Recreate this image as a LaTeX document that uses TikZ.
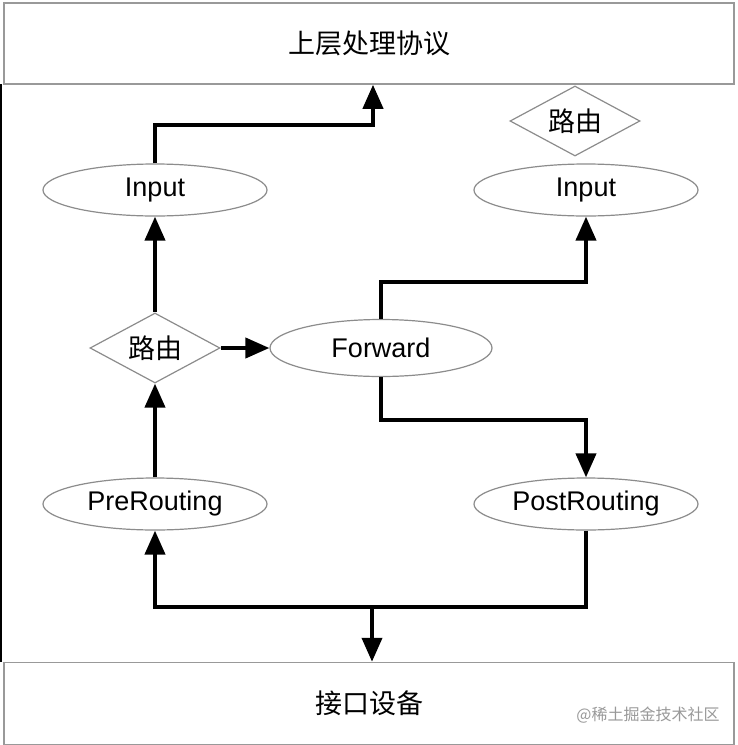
\documentclass[tikz,border=0pt]{standalone}
\usepackage{fontspec}
\setmainfont{Liberation Sans}
\newfontfamily\cjk{Noto Sans CJK SC}
\usetikzlibrary{shapes.geometric,arrows.meta}
\tikzset{
  box/.style={draw=black!40, line width=1.5pt, minimum width=730pt, inner sep=0pt, font=\cjk\fontsize{27}{30}\selectfont},
  oval/.style={ellipse, draw=black!45, line width=1.2pt, minimum width=224pt, minimum height=52pt, inner sep=0pt, font=\fontsize{27}{30}\selectfont},
  dia/.style={diamond, aspect=1.8, draw=black!45, line width=1.2pt, minimum width=130pt, minimum height=70pt, inner sep=0pt, font=\cjk\fontsize{27}{30}\selectfont},
  flow/.style={line width=4pt, -{Triangle[length=24pt,width=20pt]}},
  wmark/.style={text=black!40, font=\cjk\fontsize{16}{19}\selectfont, inner sep=0pt}
}
\begin{document}
\begin{tikzpicture}[x=1pt,y=-1pt]
\path[use as bounding box, fill=white] (0,0) rectangle (738,745);
% left edge line of the screenshot
\draw[line width=1.5pt] (1,84) -- (1,662);
\node[box, minimum height=81pt] (top) at (369,43.5) {\raisebox{-2pt}{上层处理协议}};
\node[box, minimum height=82pt] (bot) at (369,703.5) {接口设备};
\node[wmark] (wm) at (648,715) {@稀土掘金技术社区};

\node[oval] (inL) at (155,190) {\raisebox{-2pt}{Input}};
\node[oval] (inR) at (586,190) {\raisebox{-2pt}{Input}};
\node[dia] (dR) at (575,121) {路由};
\node[dia] (dL) at (155,348) {路由};
\node[oval, minimum width=222pt, minimum height=57pt] (fw) at (381,348) {Forward};
\node[oval] (pre) at (155,504) {\raisebox{-2pt}{PreRouting}};
\node[oval] (post) at (586,504) {\raisebox{-2pt}{PostRouting}};

\coordinate (c1) at (373,125);
\coordinate (c2) at (381,282);
\coordinate (c3) at (381,420);
\coordinate (c4) at (586,607);
\coordinate (c5) at (372,607);

\draw[flow] (inL.north) |- (c1) -- (c1 |- top.south);
\draw[flow] (dL.north) -- (inL.south);
\draw[flow] (pre.north) -- (dL.south);
\draw[flow] (dL.east) -- (fw.west);
\draw[flow] (fw.north) -- (c2) -| (inR.south);
\draw[flow] (fw.south) -- (c3) -| (post.north);
\draw[flow] (post.south) -- (c4) -| (pre.south);
\draw[flow] (c5) -- (c5 |- bot.north);
\end{tikzpicture}
\end{document}
